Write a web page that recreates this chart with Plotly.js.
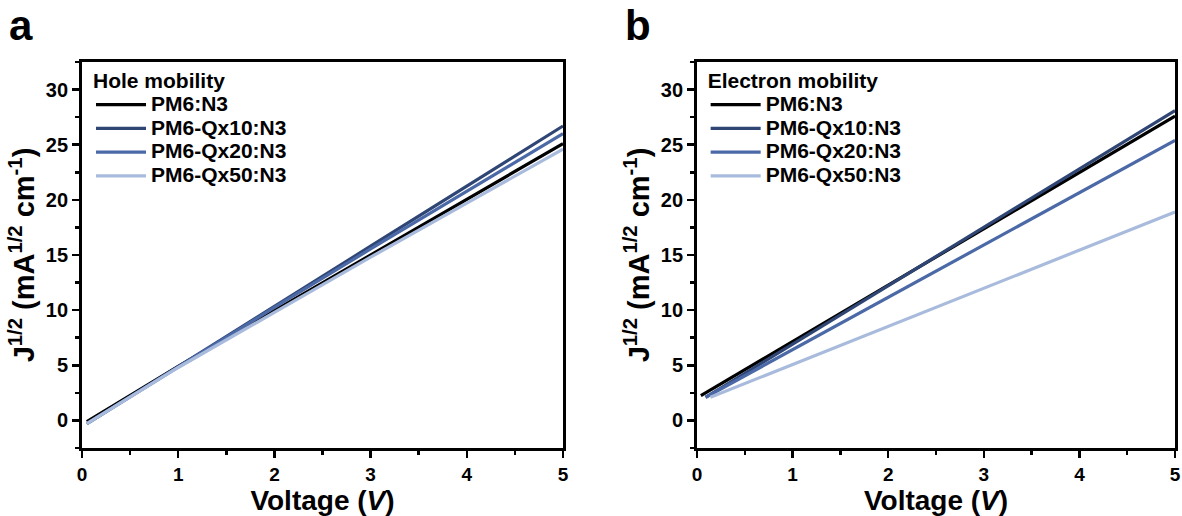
<!DOCTYPE html>
<html>
<head>
<meta charset="utf-8">
<script src="https://cdn.plot.ly/plotly-3.0.1.min.js"></script>
<style>html,body{margin:0;padding:0;background:#fff;}#chart{width:1182px;height:516px;}</style>
</head>
<body>
<div id="chart"></div>
<script>
// ---- data ----
const seriesNames = ["PM6:N3", "PM6-Qx10:N3", "PM6-Qx20:N3", "PM6-Qx50:N3"];
const seriesColors = ["#000000", "#2f4675", "#4b69a6", "#a9bbdd"];

// Panel a: hole mobility
const voltA      = [0.05, 1, 2, 3, 4, 5];
const holePM6    = [-0.1, 4.9, 9.95, 15.0, 20.05, 25.1];
const holeQx10   = [-0.3, 4.9, 10.4, 15.8, 21.25, 26.7];
const holeQx20   = [-0.3, 4.85, 10.25, 15.55, 20.8, 26.0];
const holeQx50   = [-0.3, 4.8, 9.8, 14.8, 19.7, 24.6];

// Panel b: electron mobility
const voltB_PM6  = [0.04, 1, 2, 3, 4, 5];
const voltB_Qx10 = [0.09, 1, 2, 3, 4, 5];
const voltB_Qx20 = [0.09, 1, 2, 3, 4, 5];
const voltB_Qx50 = [0.14, 1, 2, 3, 4, 5];
const elecPM6    = [2.25, 7.16, 12.27, 17.38, 22.49, 27.6];
const elecQx10   = [2.1, 6.92, 12.21, 17.51, 22.8, 28.1];
const elecQx20   = [2.1, 6.42, 11.16, 15.91, 20.65, 25.4];
const elecQx50   = [2.1, 5.07, 8.53, 11.99, 15.45, 18.9];

const xTickVals = [0, 1, 2, 3, 4, 5];
const yTickVals = [0, 5, 10, 15, 20, 25, 30];

// ---- build traces ----
const FONT = "Liberation Sans, Arial, Helvetica, sans-serif";
const holeY = [holePM6, holeQx10, holeQx20, holeQx50];
const elecX = [voltB_PM6, voltB_Qx10, voltB_Qx20, voltB_Qx50];
const elecY = [elecPM6, elecQx10, elecQx20, elecQx50];

// legend label drawn larger than the legend's nominal font so rows stay compact
const big = s => '<span style="font-size:21px">' + s + '</span>';

const traces = [];
seriesNames.forEach((n, i) => {
  traces.push({x: voltA, y: holeY[i], name: big(n), type: "scatter", mode: "lines",
    line: {color: seriesColors[i], width: 3.2}, xaxis: "x", yaxis: "y", legend: "legend"});
});
seriesNames.forEach((n, i) => {
  traces.push({x: elecX[i], y: elecY[i], name: big(n), type: "scatter", mode: "lines",
    line: {color: seriesColors[i], width: 3.2}, xaxis: "x2", yaxis: "y2", legend: "legend2"});
});

const Y_TITLE = "J<sup>1/2</sup> (mA<sup>1/2</sup> cm<sup>-1</sup>)";

function xAxis(domain, anchor) {
  return {domain: domain, anchor: anchor, range: [0, 5], tickvals: xTickVals,
    showline: true, mirror: true, linecolor: "#000", linewidth: 3,
    ticks: "outside", ticklen: 7, tickwidth: 2.5, tickcolor: "#000",
    minor: {dtick: 0.5, ticks: "outside", ticklen: 4, tickwidth: 2.5, tickcolor: "#000", showgrid: false},
    showgrid: false, zeroline: false,
    tickfont: {family: FONT, size: 19, color: "#000", weight: "bold"},
    title: {text: "Voltage (<i>V</i>)", font: {family: FONT, size: 28, color: "#000", weight: "bold"}, standoff: 1}};
}
function yAxis(domain, anchor) {
  return {domain: domain, anchor: anchor, range: [-2.5, 32.5], tickvals: yTickVals,
    showline: true, mirror: true, linecolor: "#000", linewidth: 3,
    ticks: "outside", ticklen: 7, tickwidth: 2.5, tickcolor: "#000",
    minor: {dtick: 2.5, ticks: "outside", ticklen: 4, tickwidth: 2.5, tickcolor: "#000", showgrid: false},
    showgrid: false, zeroline: false,
    tickfont: {family: FONT, size: 20, color: "#000", weight: "bold"},
    title: {text: Y_TITLE, font: {family: FONT, size: 29, color: "#000", weight: "bold"}, standoff: 3}};
}
function legend(x, title) {
  return {x: x, y: 0.883, xanchor: "left", yanchor: "top", bgcolor: "rgba(0,0,0,0)",
    borderwidth: 0, itemwidth: 50, tracegroupgap: 0,
    font: {family: FONT, size: 16, color: "#000", weight: "bold"},
    title: {text: title, font: {family: FONT, size: 21, color: "#000", weight: "bold"}}};
}

const yDom = [0.1318, 0.8798];
const layout = {
  width: 1182, height: 516,
  margin: {l: 0, r: 0, t: 0, b: 0},
  paper_bgcolor: "#fff", plot_bgcolor: "#fff",
  showlegend: true,
  xaxis: xAxis([0.0694, 0.4763], "y"),
  yaxis: yAxis(yDom, "x"),
  xaxis2: xAxis([0.5897, 0.9941], "y2"),
  yaxis2: yAxis(yDom, "x2"),
  legend: legend(0.077, "Hole mobility"),
  legend2: legend(0.597, "Electron mobility"),
  annotations: [
    {text: "a", x: 0.006, y: 1.0, xref: "paper", yref: "paper", xanchor: "left", yanchor: "top",
     showarrow: false, font: {family: FONT, size: 42, color: "#000", weight: "bold"}},
    {text: "b", x: 0.527, y: 1.0, xref: "paper", yref: "paper", xanchor: "left", yanchor: "top",
     showarrow: false, font: {family: FONT, size: 42, color: "#000", weight: "bold"}}
  ]
};

Plotly.newPlot("chart", traces, layout, {displayModeBar: false, staticPlot: true});
</script>
</body>
</html>
